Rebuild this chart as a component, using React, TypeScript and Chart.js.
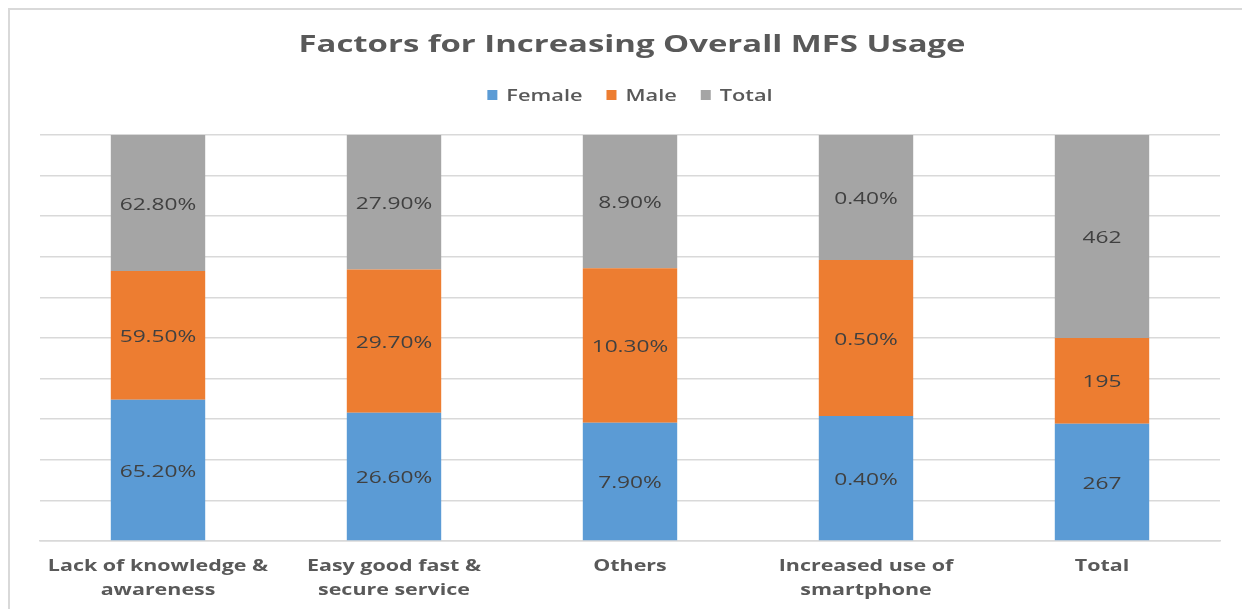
import React, { useEffect, useRef } from "react";
import { Chart, registerables } from "chart.js";

Chart.register(...registerables);

// Survey responses per factor; the last column holds respondent counts.
const categories: string[][] = [
  ["Lack of knowledge &", "awareness"],
  ["Easy good fast &", "secure service"],
  ["Others"],
  ["Increased use of", "smartphone"],
  ["Total"],
];
const femaleValues = [65.2, 26.6, 7.9, 0.4, 267];
const maleValues = [59.5, 29.7, 10.3, 0.5, 195];
const totalValues = [62.8, 27.9, 8.9, 0.4, 462];
// Whether a category is reported as a percentage (true) or a count (false).
const isPercent = [true, true, true, true, false];
const seriesNames = ["Female", "Male", "Total"];
const seriesColors = ["#5B9BD5", "#ED7D31", "#A5A5A5"];
const chartTitle = "Factors for Increasing Overall MFS Usage";

const rawSeries = [femaleValues, maleValues, totalValues];

// Each column is stacked to 100% of its own sum.
const columnSums = categories.map((_, i) =>
  rawSeries.reduce((s, arr) => s + arr[i], 0)
);
const shareSeries = rawSeries.map((arr) =>
  arr.map((v, i) => (v / columnSums[i]) * 100)
);

const formatValue = (v: number, i: number) =>
  isPercent[i] ? v.toFixed(2) + "%" : String(Math.round(v));

const FONT = "'Open Sans', 'DejaVu Sans', sans-serif";
const WIDE = 1.36; // horizontal stretch of the lettering

// Draws text stretched horizontally about its anchor point.
function wideText(ctx: CanvasRenderingContext2D, text: string, x: number, y: number, sx = WIDE) {
  ctx.save();
  ctx.translate(x, y);
  ctx.scale(sx, 1);
  ctx.fillText(text, 0, 0);
  ctx.restore();
}

// Title and legend above the plot.
const header = {
  id: "header",
  afterDraw(chart: any) {
    const ctx = chart.ctx as CanvasRenderingContext2D;
    const cx = (chart.chartArea.left + chart.chartArea.right) / 2;
    ctx.save();
    ctx.font = `bold 24px ${FONT}`;
    ctx.fillStyle = "#595959";
    ctx.textAlign = "center";
    ctx.textBaseline = "middle";
    wideText(ctx, chartTitle, cx + 2, 35, 1.37);

    ctx.font = `600 16px ${FONT}`;
    const box = 10;
    const boxGap = 9;
    const itemGap = 24;
    const widths = seriesNames.map((n) => ctx.measureText(n).width * WIDE);
    const total =
      widths.reduce((s, w) => s + w + box + boxGap, 0) +
      itemGap * (seriesNames.length - 1);
    let x = cx - total / 2;
    const y = 85;
    ctx.textAlign = "left";
    seriesNames.forEach((name, k) => {
      ctx.fillStyle = seriesColors[k];
      ctx.fillRect(x, y - box / 2, box, box);
      x += box + boxGap;
      ctx.fillStyle = "#595959";
      wideText(ctx, name, x, y + 1);
      x += widths[k] + itemGap;
    });
    ctx.restore();
  },
};

// Category names under each column, positioned by the x scale.
const categoryLabels = {
  id: "categoryLabels",
  afterDraw(chart: any) {
    const ctx = chart.ctx as CanvasRenderingContext2D;
    const xScale = chart.scales.x;
    const base = chart.chartArea.bottom;
    ctx.save();
    ctx.font = `bold 16px ${FONT}`;
    ctx.fillStyle = "#595959";
    ctx.textAlign = "center";
    ctx.textBaseline = "middle";
    categories.forEach((lines, i) => {
      const x = xScale.getPixelForTick(i);
      lines.forEach((line, j) => {
        wideText(ctx, line, x, base + 25 + j * 24, 1.34);
      });
    });
    ctx.restore();
  },
};

// Value written in the middle of every stacked segment.
const segmentLabels = {
  id: "segmentLabels",
  afterDatasetsDraw(chart: any) {
    const ctx = chart.ctx as CanvasRenderingContext2D;
    ctx.save();
    ctx.font = `400 16px ${FONT}`;
    ctx.fillStyle = "#404040";
    ctx.textAlign = "center";
    ctx.textBaseline = "middle";
    chart.data.datasets.forEach((_: any, di: number) => {
      const meta = chart.getDatasetMeta(di);
      meta.data.forEach((bar: any, i: number) => {
        const y = (bar.y + bar.base) / 2;
        wideText(ctx, formatValue(rawSeries[di][i], i), bar.x, y + 2, 1.42);
      });
    });
    ctx.restore();
  },
};

export default function App() {
  const canvasRef = useRef<HTMLCanvasElement | null>(null);

  useEffect(() => {
    if (!canvasRef.current) return;
    const chart = new Chart(canvasRef.current, {
      type: "bar",
      data: {
        labels: categories,
        datasets: shareSeries.map((data, k) => ({
          label: seriesNames[k],
          data,
          backgroundColor: seriesColors[k],
          borderWidth: 0,
          barPercentage: 0.4,
          categoryPercentage: 1,
        })),
      },
      options: {
        animation: false,
        responsive: false,
        maintainAspectRatio: false,
        layout: { padding: { left: 30, right: 22, top: 125, bottom: 60 } },
        plugins: {
          title: { display: false },
          legend: { display: false },
          tooltip: { enabled: false },
        },
        scales: {
          x: {
            stacked: true,
            grid: { display: false },
            border: { display: true, color: "#d9d9d9", width: 1.5 },
            ticks: { display: false },
          },
          y: {
            stacked: true,
            min: 0,
            max: 100,
            ticks: { display: false, stepSize: 10 },
            grid: { color: "#d9d9d9", lineWidth: 1.5, drawTicks: false },
            border: { display: false },
            afterFit: (scale: any) => {
              scale.width = 0;
            },
          },
        },
      },
      plugins: [header, categoryLabels, segmentLabels],
    });
    return () => chart.destroy();
  }, []);

  return (
    <div
      style={{
        width: 1232,
        height: 620,
        border: "2px solid #d9d9d9",
        background: "#fff",
        boxSizing: "content-box",
      }}
    >
      <canvas ref={canvasRef} width={1232} height={599} style={{ display: "block" }} />
    </div>
  );
}
